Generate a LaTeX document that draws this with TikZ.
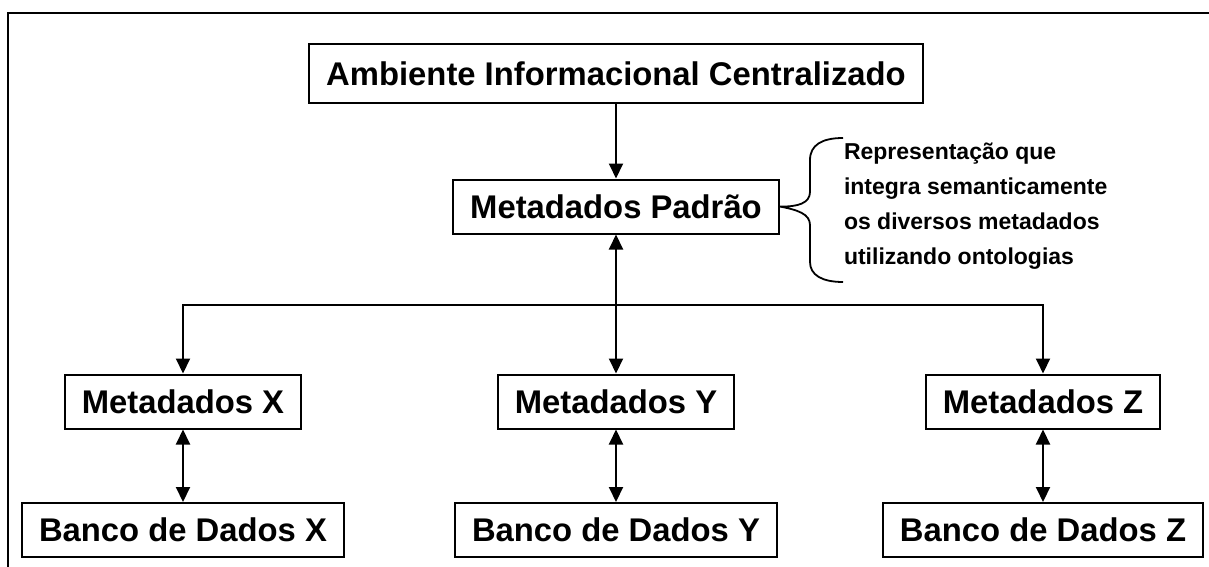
\documentclass[tikz,border=0pt]{standalone}
\usepackage{fontspec}
\setmainfont{Liberation Sans}
\usetikzlibrary{calc,arrows.meta,positioning}
\tikzset{
  meta/.style={rectangle, draw=black, line width=1pt, font=\bfseries\fontsize{16.4}{19}\selectfont, inner xsep=8.5pt, minimum height=27pt},
  metatop/.style={meta, minimum height=29.5pt},
  nota/.style={rectangle, font=\bfseries\fontsize{11.5}{17.5}\selectfont, align=left, inner sep=0pt, anchor=west},
  line/.style={draw, line width=1pt, ->},
}

\begin{document}
\begin{tikzpicture}[x=0.5pt, y=-0.5pt, >={Triangle[length=7.5pt,width=7pt]}, line width=1pt]
   \useasboundingbox (0,0) rectangle (1209,567);
   \draw (8,580) |- (1220,13);

   \node[metatop] (amb) at (616,73.5) {Ambiente Informacional Centralizado};
   \node[meta] (pad) at (616,206.5) {Metadados Padrão};
   \node[nota] (rep) at (843,206) {Representação que\\integra semanticamente\\os diversos metadados\\utilizando ontologias};

   \node[meta] (mx) at (183,401.5) {Metadados X};
   \node[meta] (my) at (616,401.5) {Metadados Y};
   \node[meta] (mz) at (1043,401.5) {Metadados Z};
   \node[meta] (bx) at (183,530) {Banco de Dados X};
   \node[meta] (by) at (616,530) {Banco de Dados Y};
   \node[meta] (bz) at (1043,530) {Banco de Dados Z};
   \coordinate (split) at (616,305);

  \path[->]
    (amb) edge (pad)
    (pad) edge [<->] (my)
    (mx) edge [<->] (bx)
    (my) edge [<->] (by)
    (mz) edge [<->] (bz);
  \draw[->] (split) -| (mx);
  \draw[->] (split) -| (mz);

  % chave
  \draw[line width=0.9pt] (843,138) .. controls (822,138) and (810,145) .. (810,160)
    -- (810,192) .. controls (810,203) and (798,207) .. (pad.east)
    .. controls (798,210) and (810,214) .. (810,225)
    -- (810,262) .. controls (810,275) and (822,282) .. (843,282);
\end{tikzpicture}
\end{document}
